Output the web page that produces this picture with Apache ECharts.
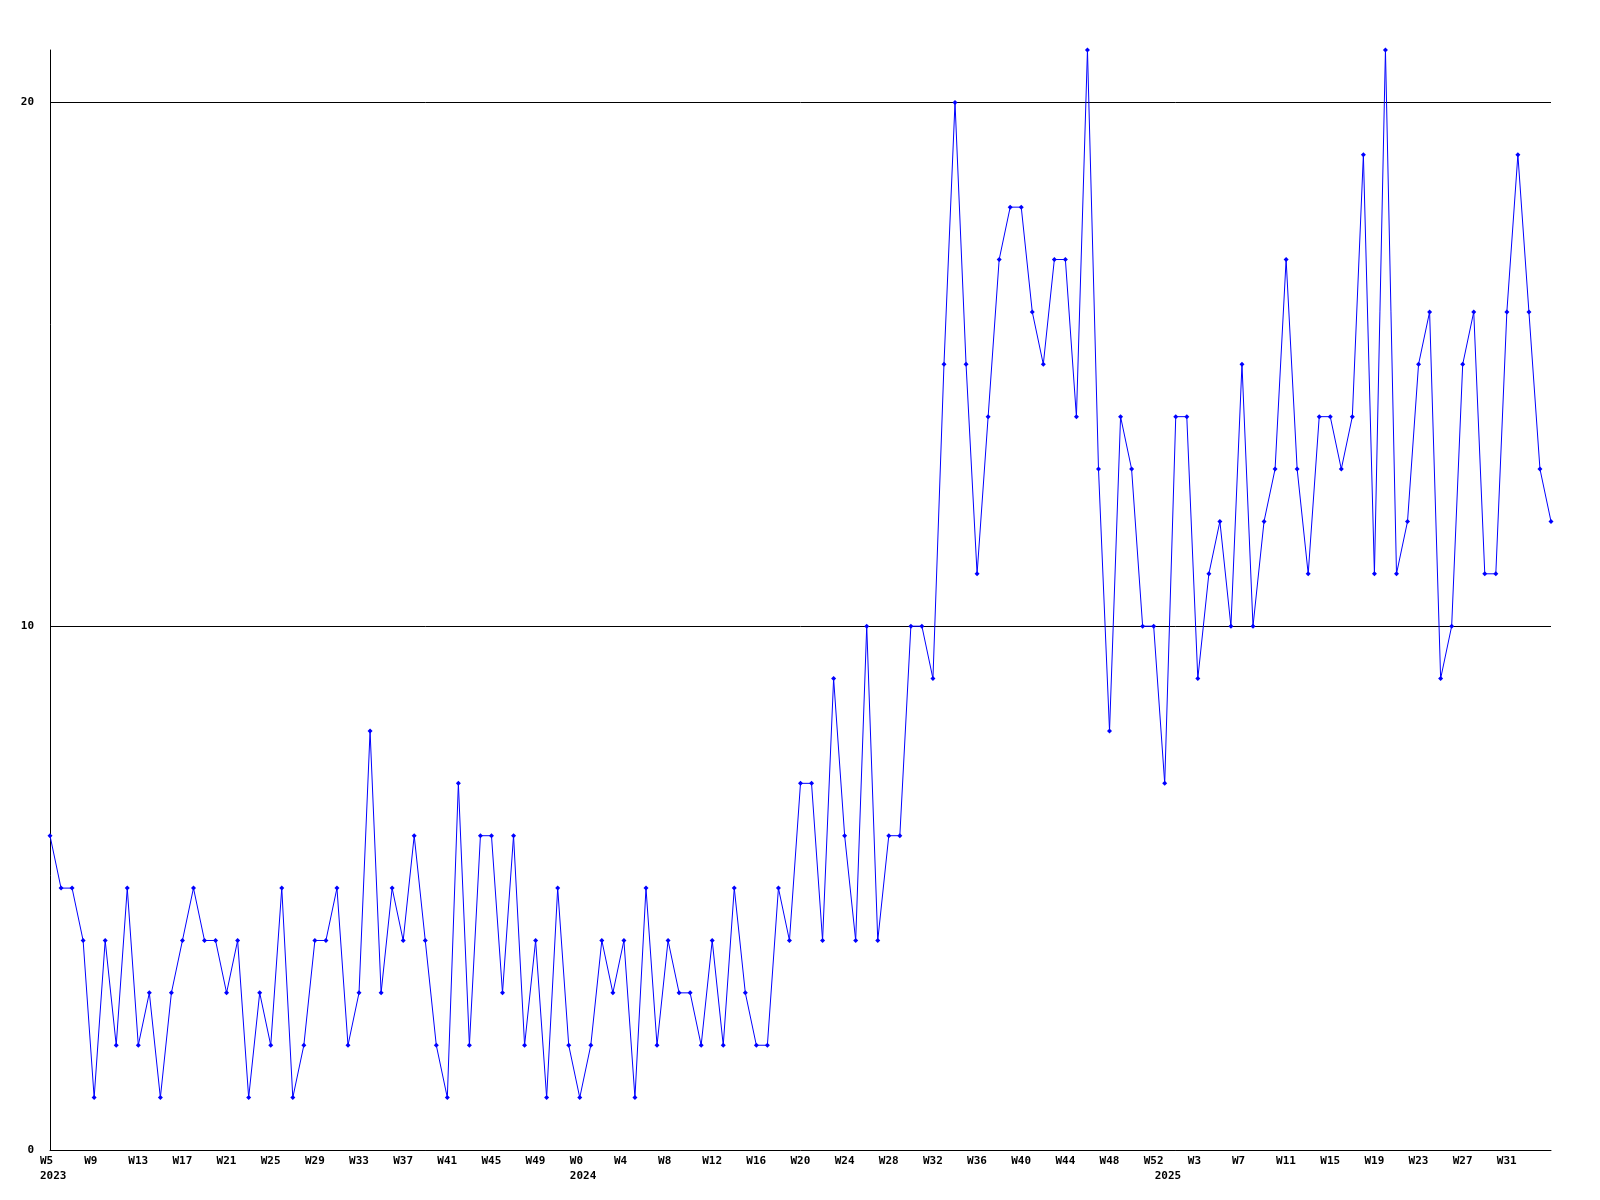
<!DOCTYPE html>
<html>
<head>
<meta charset="utf-8">
<script src="https://cdn.jsdelivr.net/npm/echarts@6/dist/echarts.min.js"></script>
<style>
html,body{margin:0;padding:0;background:#fff;}
#chart{width:1600px;height:1200px;}
</style>
</head>
<body>
<div id="chart"></div>
<script>
// Week numbers per year
var weeks2023 = [5,6,7,8,9,10,11,12,13,14,15,16,17,18,19,20,21,22,23,24,25,26,27,28,29,30,31,32,33,34,35,36,37,38,39,40,41,42,43,44,45,46,47,48,49,50,51,52];
var weeks2024 = [0,1,2,3,4,5,6,7,8,9,10,11,12,13,14,15,16,17,18,19,20,21,22,23,24,25,26,27,28,29,30,31,32,33,34,35,36,37,38,39,40,41,42,43,44,45,46,47,48,49,50,51,52];
var weeks2025 = [0,1,2,3,4,5,6,7,8,9,10,11,12,13,14,15,16,17,18,19,20,21,22,23,24,25,26,27,28,29,30,31,32,33,34,35];

// Weekly values
var values2023 = [6,5,5,4,1,4,2,5,2,3,1,3,4,5,4,4,3,4,1,3,2,5,1,2,4,4,5,2,3,8,3,5,4,6,4,2,1,7,2,6,6,3,6,2,4,1,5,2];
var values2024 = [1,2,4,3,4,1,5,2,4,3,3,2,4,2,5,3,2,2,5,4,7,7,4,9,6,4,10,4,6,6,10,10,9,15,20,15,11,14,17,18,18,16,15,17,17,14,21,13,8,14,13,10,10];
var values2025 = [7,14,14,9,11,12,10,15,10,12,13,17,13,11,14,14,13,14,19,11,21,11,12,15,16,9,10,15,16,11,11,16,19,16,13,12];

var yTicks = [0, 10, 20];

var categories = [];
var values = [];
var years = [];
function addYear(y, wk, vals) {
  for (var i = 0; i < wk.length; i++) {
    categories.push('W' + wk[i]);
    years.push(i === 0 ? String(y) : '');
    values.push(vals[i]);
  }
}
addYear(2023, weeks2023, values2023);
addYear(2024, weeks2024, values2024);
addYear(2025, weeks2025, values2025);

var font = 'DejaVu Sans Mono';
var chart = echarts.init(document.getElementById('chart'), null, {renderer: 'canvas'});
chart.setOption({
  animation: false,
  backgroundColor: '#ffffff',
  grid: {left: 50, right: 49, top: 50, bottom: 50, containLabel: false},
  xAxis: [{
    type: 'category',
    data: categories,
    boundaryGap: false,
    axisLine: {show: true, lineStyle: {color: '#000', width: 1}},
    axisTick: {show: false},
    splitLine: {show: false},
    axisLabel: {
      interval: 3,
      showMaxLabel: false,
      color: '#000',
      fontFamily: font,
      fontWeight: 'bold',
      fontSize: 11,
      align: 'left',
      padding: [0, 0, 0, -10],
      margin: 6
    }
  }, {
    type: 'category',
    data: years,
    position: 'bottom',
    boundaryGap: false,
    axisLine: {show: false},
    axisTick: {show: false},
    splitLine: {show: false},
    axisLabel: {
      interval: function (idx, val) { return val !== ''; },
      color: '#000',
      fontFamily: font,
      fontWeight: 'bold',
      fontSize: 11,
      align: 'left',
      padding: [0, 0, 0, -10],
      margin: 21
    }
  }],
  yAxis: {
    type: 'value',
    min: 0,
    max: 21,
    interval: 10,
    axisLine: {show: true, lineStyle: {color: '#000', width: 1}},
    axisTick: {show: false},
    splitLine: {show: true, showMaxLine: false, showMinLine: false, lineStyle: {color: '#000', width: 1}},
    axisLabel: {
      color: '#000',
      fontFamily: font,
      fontWeight: 'bold',
      fontSize: 11,
      margin: 16,
      formatter: function (v) { return yTicks.indexOf(v) >= 0 ? String(v) : ''; }
    }
  },
  series: [{
    type: 'line',
    data: values,
    xAxisIndex: 0,
    smooth: false,
    symbol: 'diamond',
    symbolSize: 5,
    showAllSymbol: true,
    lineStyle: {color: '#0000ff', width: 1},
    itemStyle: {color: '#0000ff'},
    emphasis: {disabled: true}
  }]
});
</script>
</body>
</html>
